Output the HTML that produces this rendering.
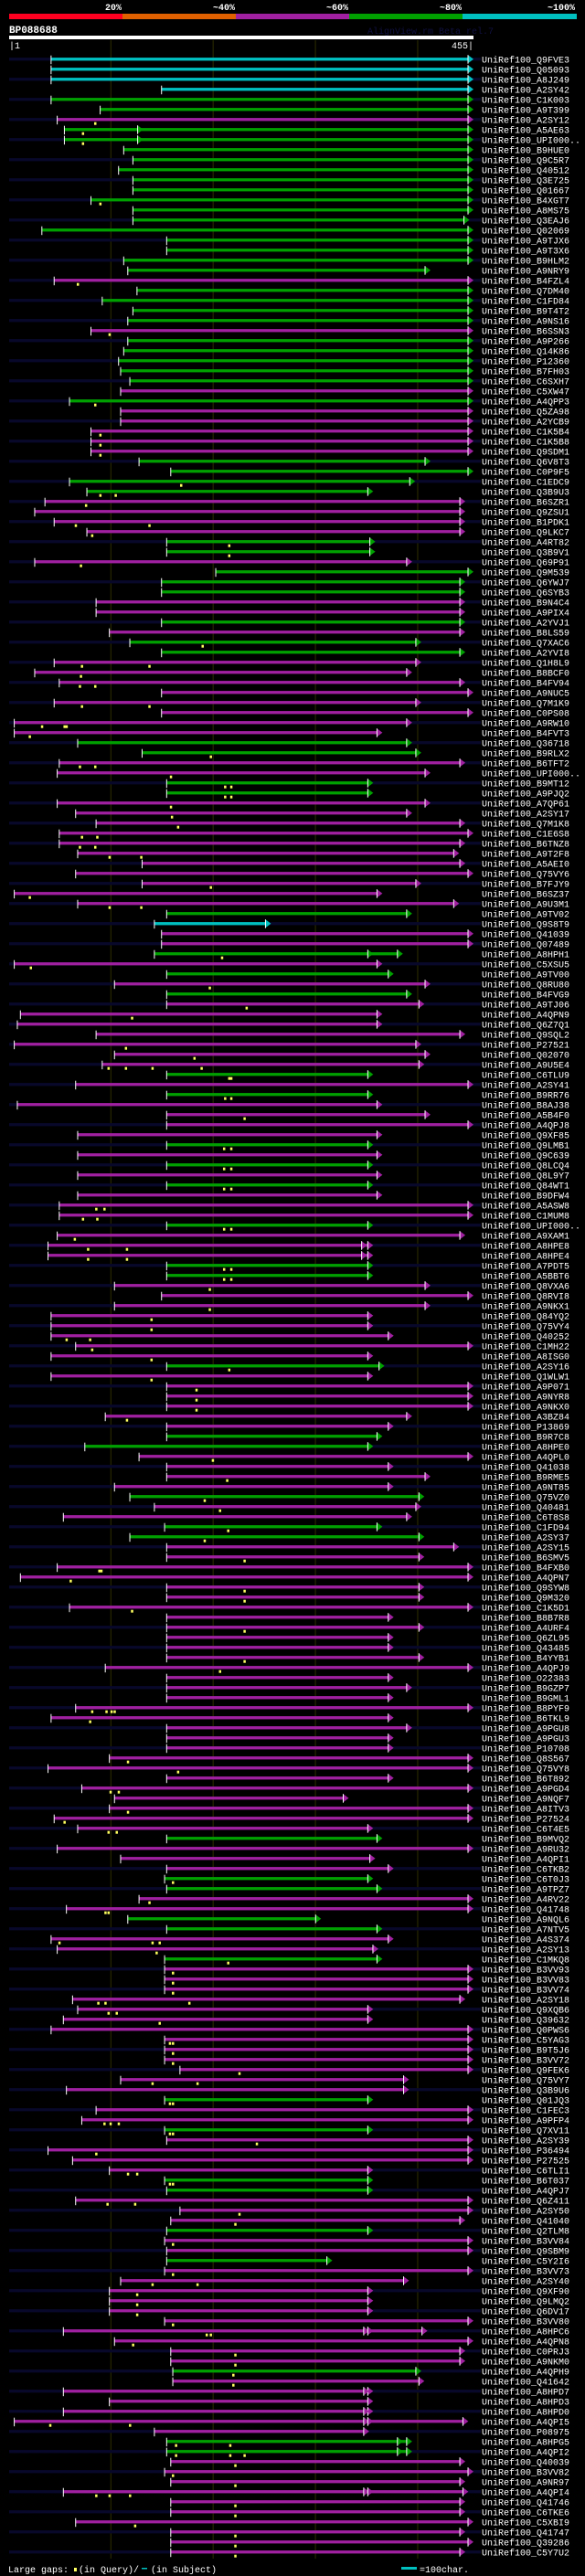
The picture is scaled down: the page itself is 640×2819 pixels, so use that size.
<!DOCTYPE html>
<html><head><meta charset="utf-8">
<style>
html,body{margin:0;padding:0;background:#000;}
svg{display:block;}
text{font-family:"Liberation Mono","DejaVu Sans Mono",monospace;}
</style></head>
<body>
<svg id="chart" width="640" height="2819" viewBox="0 0 640 2819" xmlns="http://www.w3.org/2000/svg">
<rect x="0" y="0" width="640" height="2819" fill="#000"/>
<g>
<rect x="10" y="15" width="124" height="6" fill="#ff0020"/>
<rect x="134" y="15" width="124" height="6" fill="#e06000"/>
<rect x="258" y="15" width="124" height="6" fill="#a020a0"/>
<rect x="382" y="15" width="124" height="6" fill="#00a000"/>
<rect x="506" y="15" width="125" height="6" fill="#00c0c0"/>
<g fill="#fff" font-size="10" font-weight="bold" text-anchor="end">
<text x="133" y="11">20%</text>
<text x="257" y="11">~40%</text>
<text x="381" y="11">~60%</text>
<text x="505" y="11">~80%</text>
<text x="629" y="11">~100%</text>
</g></g>
<text x="10" y="36" fill="#fff" font-size="11" font-weight="bold">BP088688</text>
<text x="402" y="37" fill="#101040" font-size="10">AlignView.rm Beta rel.7</text>
<rect x="10" y="39" width="508" height="4" fill="#fff"/>
<text x="10" y="53" fill="#fff" font-size="10">|1</text>
<text x="518" y="53" fill="#fff" font-size="10" text-anchor="end">455|</text>
<g id="grid"></g>
<g id="rows"></g>
<g>
<text x="9" y="2815" fill="#fff" font-size="10">Large gaps:</text>
<rect x="81" y="2810" width="3" height="4" fill="#ffff60"/>
<text x="86" y="2815" fill="#fff" font-size="10">(in Query)/</text>
<rect x="155" y="2810" width="6" height="1.5" fill="#00c0c0"/>
<text x="165" y="2815" fill="#fff" font-size="10">(in Subject)</text>
<rect x="439" y="2809" width="17" height="3" fill="#00c0c0"/>
<text x="459" y="2815" fill="#fff" font-size="10">=100char.</text>
</g>
</svg>
<script>
const gridTicks = [100, 200, 300, 400];
const ids = ["Q9FVE3","Q05093","A8J249","A2SY42","C1K003","A9T399","A2SY12","A5AE63","UPI000..","B9HUE0","Q9C5R7","Q40512","Q3E725","Q01667","B4XGT7","A8MS75","Q3EAJ6","Q02069","A9TJX6","A9T3X6","B9HLM2","A9NRY9","B4FZL4","Q7DM40","C1FD84","B9T4T2","A9NS16","B6SSN3","A9P266","Q14K86","P12360","B7FH03","C6SXH7","C5XW47","A4QPP3","Q5ZA98","A2YCB9","C1K5B4","C1K5B8","Q9SDM1","Q6V8T3","C0P9F5","C1EDC9","Q3B9U3","B6SZR1","Q9ZSU1","B1PDK1","Q9LKC7","A4RT82","Q3B9V1","Q69P91","Q9M539","Q6YWJ7","Q6SYB3","B9N4C4","A9PIX4","A2YVJ1","B8LS59","Q7XAC6","A2YVI8","Q1H8L9","B8BCF0","B4FV94","A9NUC5","Q7M1K9","C0PS08","A9RW10","B4FVT3","Q36718","B9RLX2","B6TFT2","UPI000..","B9MT12","A9PJQ2","A7QP61","A2SY17","Q7M1K8","C1E6S8","B6TNZ8","A9T2F8","A5AEI0","Q75VY6","B7FJY9","B6SZ37","A9U3M1","A9TV02","Q9S8T9","Q41039","Q07489","A8HPH1","C5XSU5","A9TV00","Q8RU80","B4FVG9","A9TJ06","A4QPN9","Q6Z7Q1","Q9SQL2","P27521","Q02070","A9U5E4","C6TLU9","A2SY41","B9RR76","B8AJ38","A5B4F0","A4QPJ8","Q9XF85","Q9LMB1","Q9C639","Q8LCQ4","Q8L9Y7","Q84WT1","B9DFW4","A5ASW8","C1MUM8","UPI000..","A9XAM1","A8HPE8","A8HPE4","A7PDT5","A5BBT6","Q8VXA6","Q8RVI8","A9NKX1","Q84YQ2","Q75VY4","Q40252","C1MH22","A8ISG0","A2SY16","Q1WLW1","A9P071","A9NYR8","A9NKX0","A3BZ84","P13869","B9R7C8","A8HPE0","A4QPL0","Q41038","B9RME5","A9NT85","Q75VZ0","Q40481","C6T8S8","C1FD94","A2SY37","A2SY15","B6SMV5","B4FXB0","A4QPN7","Q9SYW8","Q9M320","C1K5D1","B8B7R8","A4URF4","Q6ZL95","Q43485","B4YYB1","A4QPJ9","O22383","B9GZP7","B9GML1","B8PYF9","B6TKL9","A9PGU8","A9PGU3","P10708","Q8S567","Q75VY8","B6T892","A9PGD4","A9NQF7","A8ITV3","P27524","C6T4E5","B9MVQ2","A9RU32","A4QPI1","C6TKB2","C6T0J3","A9TPZ7","A4RV22","Q41748","A9NQL6","A7NTV5","A4S374","A2SY13","C1MKQ8","B3VV93","B3VV83","B3VV74","A2SY18","Q9XQB6","Q39632","Q0PWS6","C5YAG3","B9T5J6","B3VV72","Q9FEK6","Q75VY7","Q3B9U6","Q01JQ3","C1FEC3","A9PFP4","Q7XV11","A2SY39","P36494","P27525","C6TLI1","B6T037","A4QPJ7","Q6Z411","A2SY50","Q41040","Q2TLM8","B3VV84","Q9SBM9","C5Y2I6","B3VV73","A2SY40","Q9XF90","Q9LMQ2","Q6DV17","B3VV80","A8HPC6","A4QPN8","C0PRJ3","A9NKM0","A4QPH9","Q41642","A8HPD7","A8HPD3","A8HPD0","A4QPI5","P08975","A8HPG5","A4QPI2","Q40039","B3VV82","A9NR97","A4QPI4","Q41746","C6TKE6","C5XBI9","Q41747","Q39286","C5Y7U2"];
const colorRuns = ["c4","g2","m1","g15","m1","g4","m1","g5","m1","g1","m5","g4","m4","g2","m1","g3","m2","g1","m1","g2","m8","g2","m2","g2","m11","g1","c1","m2","g1","m1","g1","m1","g1","m7","g1","m1","g1","m4","g1","m1","g1","m1","g1","m3","g1","m3","g2","m8","g1","m6","g2","m4","g1","m2","g2","m29","g1","m3","g2","m2","g2","m2","g1","m13","g1","m2","g1","m4","g2","m3","g1","m2","g1","m10","g1","m6","g2","m10"];
const starts = [42,42,42,150,42,90,48,55,55,113,122,108,122,122,81,122,122,33,155,155,113,117,45,126,92,122,117,81,117,113,108,110,119,110,60,110,110,81,81,81,128,159,60,77,36,26,45,77,155,155,26,203,150,150,86,86,150,99,119,150,45,26,50,150,45,150,6,6,68,131,50,48,155,155,48,66,86,50,50,68,131,66,131,6,68,155,143,150,150,143,6,155,104,155,155,12,9,86,6,104,92,155,66,155,9,155,155,68,155,68,155,68,155,68,50,50,155,48,39,39,155,155,104,150,104,42,42,42,66,42,155,42,155,155,155,95,155,155,75,128,155,155,104,119,143,54,153,119,155,155,48,12,155,155,60,155,155,155,155,155,95,155,155,155,66,42,155,155,155,99,39,155,72,104,99,45,68,155,48,110,155,153,155,128,57,117,155,42,48,153,153,153,153,63,68,54,42,153,153,153,168,110,57,153,86,72,153,155,39,63,99,153,155,66,168,159,155,153,155,155,153,110,99,99,99,153,54,104,159,159,161,161,54,99,54,6,143,155,155,159,153,159,54,159,159,66,159,159,159];
const ends = [455,455,455,455,455,455,455,455,455,455,455,455,455,455,455,455,451,455,455,455,455,413,455,455,455,455,455,455,455,455,455,455,455,455,455,455,455,455,455,455,413,455,398,357,447,447,447,447,359,359,395,455,447,447,447,447,447,447,404,447,404,395,447,455,404,455,395,366,395,404,447,413,357,357,413,395,447,455,447,441,447,455,404,366,441,395,257,455,455,386,366,377,413,395,407,366,366,447,404,413,407,357,455,357,366,413,455,366,357,366,357,366,357,366,455,455,357,447,357,357,357,357,413,455,413,357,357,377,455,357,368,357,455,455,455,395,377,366,357,455,377,413,377,407,404,395,366,407,441,407,455,455,407,407,455,377,407,377,377,407,455,377,395,377,455,377,395,377,377,455,455,377,455,333,455,455,357,366,455,359,377,357,366,455,455,306,366,377,362,366,455,455,455,447,357,357,455,455,455,455,455,392,392,357,455,455,357,455,455,455,357,357,357,455,455,447,357,455,455,317,455,392,357,357,357,455,410,455,447,447,404,407,357,357,357,450,353,395,395,447,455,447,450,447,447,455,447,455,447];
const queryGaps = [[],[],[],[],[],[],[85],[73],[73],[],[],[],[],[],[90],[],[],[],[],[],[],[],[68],[],[],[],[],[99],[],[],[],[],[],[],[85],[],[],[90],[90],[90],[],[],[169],[90,105],[76],[],[66,138],[82],[216],[216],[71],[],[],[],[],[],[],[],[190],[],[72,138],[71],[70,85],[],[72,138],[],[33,55,57],[21],[],[198],[70,85],[159],[212,218],[212,218],[159],[160],[166],[72,87],[70,85],[99,130],[],[],[198],[21],[99,130],[],[],[],[],[209],[22],[],[197],[],[233],[121],[],[],[115],[182],[98,115,141,189],[216,218],[],[212,218],[],[231],[],[],[211,218],[],[211,218],[],[211,218],[],[86,94],[73,87],[211,218],[65],[78,116],[78,116],[211,218],[211,218],[197],[],[197],[140],[140],[57,80],[82],[140],[216],[140],[184],[184],[184],[116],[],[],[],[200],[],[214],[],[192],[207],[],[215],[192],[],[231],[89,91],[61],[231],[231],[121],[],[231],[],[],[231],[207],[],[],[],[82,96,101,104],[80],[],[],[],[117],[166],[],[100,108],[],[117],[55],[98,106],[],[],[],[],[161],[],[138],[95,98],[],[],[50,141,148],[145],[215],[161],[161],[161],[88,95,177],[98,106],[148],[],[158,161],[161],[161],[226],[141,185],[],[158,161],[],[94,100,108],[158,161],[243],[86],[],[117,126],[158,161],[],[97,124],[226],[222],[],[161],[],[],[161],[141,185],[126],[126],[126],[161],[194,198],[122],[222],[222],[220],[220],[],[],[],[41,119],[],[164,217],[164,217,231],[222],[161],[222],[86,99,119],[222],[222],[124],[222],[222],[222]];
const extraTriRows = [7,8,89,118,119,226,226,232,234,235,235,237,238,242,242];
const extraTriPos = [132,132,357,351,351,353,357,353,353,353,357,386,386,353,357];

const kinds = [];
colorRuns.forEach(r => { const k = r[0], n = parseInt(r.slice(1)); for (let j = 0; j < n; j++) kinds.push(k); });

const NS = "http://www.w3.org/2000/svg";
const X = r => 10 + (r - 1) * 508 / 454;
const rowY = i => 64.7 + 11 * i;
const COL = {c:"#00c0c0", g:"#00a000", m:"#a020a0"};
function mk(tag, attrs, parent){
  const el = document.createElementNS(NS, tag);
  for (const k in attrs) el.setAttribute(k, attrs[k]);
  parent.appendChild(el);
  return el;
}
const grid = document.getElementById('grid');
gridTicks.forEach(t => {
  const l = mk('line', {x1:X(t)+0.5, x2:X(t)+0.5, y1:44, y2:2800, stroke:"#2e2e00", "stroke-width":1}, grid);
  
  
});
const rowsG = document.getElementById('rows');
function tri(g, end, cy, color){
  const xe = X(end), xb = xe - 6;
  const p = mk('polygon', {points: xb+","+(cy-4.5)+" "+xe+","+cy+" "+xb+","+(cy+4.5), fill: color}, g);
  
  
  const w = mk('rect', {x: xb-0.5, y: cy-4.5, width: 1, height: 9.5, fill:"#fff"}, g);
  
  
}
ids.forEach((id, i) => {
  const cy = rowY(i);
  const color = COL[kinds[i]] || COL.m;
  const g = mk('g', {}, rowsG);
  
  
  if (i % 2 === 0) {
    const s = mk('rect', {x:10, y:cy-1.6, width:516, height:3.3, fill:"#08082a"}, g);
    
    
  }
  const xs = X(starts[i]), xe = X(ends[i]) - 6;
  const b = mk('rect', {x:xs, y:cy-1.6, width:Math.max(0, xe-xs), height:3.3, fill:color}, g);
  
  
  tri(g, ends[i], cy, color);
  const t = mk('rect', {x:xs-0.5, y:cy-4, width:1, height:9.5, fill:"#fff"}, g);
  
  
  (queryGaps[i] || []).forEach(q => {
    const y = mk('rect', {x:X(q)-1, y:cy+3, width:2.5, height:3, fill:"#ffff60"}, g);
    
    
  });
  const lab = mk('text', {x:527, y:cy+4, fill:"#fff", "font-size":10}, g);
  lab.textContent = "UniRef100_" + id;
  
  
});
extraTriRows.forEach((r, k) => {
  const cy = rowY(r);
  const g = rowsG.children[r];
  tri(g, extraTriPos[k], cy, COL[kinds[r]] || COL.m);
});
</script>
</body></html>
